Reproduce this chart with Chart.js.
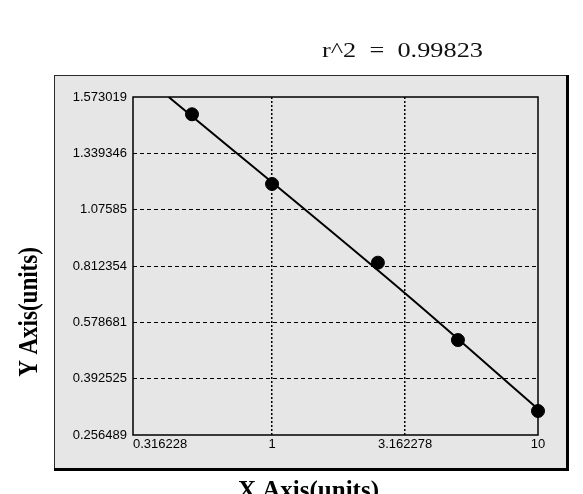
<!DOCTYPE html>
<html>
<head>
<meta charset="utf-8">
<script src="https://cdn.jsdelivr.net/npm/chart.js@4.4.1/dist/chart.umd.min.js"></script>
<style>
    body { margin: 0; background: #ffffff; }
    #wrap { width: 583px; height: 494px; }
</style>
</head>
<body>
<div id="wrap"><canvas id="std_curve_chart"></canvas></div>
<script>
// tick values / labels
const yTickValues = [0.256489, 0.392525, 0.578681, 0.812354, 1.07585, 1.339346, 1.573019];
const yTickLabels = ["0.256489", "0.392525", "0.578681", "0.812354", "1.07585", "1.339346", "1.573019"];
const xTickValues = [0.316228, 1, 3.162278, 10];
const xTickLabels = ["0.316228", "1", "3.162278", "10"];

// standard points
const stdX = [0.5, 1, 2.5, 5, 10];
const stdY = [1.5013, 1.196, 0.8279, 0.5202, 0.3144];

// fitted curve
const fitX = [0.4086, 3.162, 10];
const fitY = [1.573019, 0.699, 0.3193];

const rSquared = "r^2  =  0.99823";
const xTitle = "X Axis(units)";
const yTitle = "Y Axis(units)";

// the y axis is spaced evenly by tick, not by value
function toIdx(v) {
    for (let i = 0; i < yTickValues.length - 1; i++) {
        let a = yTickValues[i], b = yTickValues[i + 1];
        if (v <= b || i === yTickValues.length - 2) {
            return i + (v - a) / (b - a);
        }
    }
}

const panelPlugin = {
    id: "panel",
    beforeDraw: function (chart) {
        let ctx = chart.ctx, a = chart.chartArea;
        let px = a.left - 79, py = a.top - 22, pw = a.right - a.left + 108, ph = a.bottom - a.top + 56;
        ctx.save();
        ctx.fillStyle = "#ffffff";
        ctx.fillRect(0, 0, chart.width, chart.height);
        ctx.fillStyle = "#e6e6e6";
        ctx.fillRect(px, py, pw, ph);
        ctx.strokeStyle = "#2a2a2a";
        ctx.lineWidth = 1;
        ctx.strokeRect(px + 0.5, py + 0.5, pw, ph);
        ctx.fillStyle = "#000000";
        ctx.fillRect(px + pw - 1, py, 3, ph + 2);
        ctx.fillRect(px, py + ph - 1, pw + 2, 3);

        // r^2 text
        ctx.font = "22px 'Liberation Serif', serif";
        ctx.textBaseline = "middle";
        ctx.textAlign = "left";
        let w = ctx.measureText(rSquared).width;
        ctx.translate(a.left + 189, a.top - 46);
        ctx.scale(161 / w, 1);
        ctx.fillStyle = "#111111";
        ctx.fillText(rSquared, 0, 0);
        ctx.restore();

        // axis titles
        ctx.save();
        ctx.fillStyle = "#000000";
        ctx.font = "bold 25px 'Liberation Serif', serif";
        ctx.textAlign = "center";
        ctx.textBaseline = "alphabetic";
        ctx.fillText(xTitle, px + pw / 2 - 2, chart.height + 4);
        ctx.restore();

        ctx.save();
        ctx.fillStyle = "#000000";
        ctx.font = "bold 23px 'Liberation Serif', serif";
        ctx.textAlign = "center";
        ctx.textBaseline = "middle";
        ctx.translate(30, a.top + 215);
        ctx.rotate(-Math.PI / 2);
        ctx.scale(1, 1.15);
        ctx.fillText(yTitle, 0, 0);
        ctx.restore();

        // first x label starts at the left edge of the plot
        let items = chart.scales.x.getLabelItems ? chart.scales.x.getLabelItems() : null;
        if (items && items.length) {
            items[0].options.textAlign = "left";
            items[0].options.translation[0] = a.left;
        }
    },
    beforeDatasetsDraw: function (chart) {
        let ctx = chart.ctx, a = chart.chartArea;
        ctx.save();
        ctx.strokeStyle = "#000000";
        ctx.lineWidth = 1.5;
        ctx.strokeRect(a.left, a.top, a.right - a.left, a.bottom - a.top);
        ctx.restore();
    }
};

new Chart(document.getElementById("std_curve_chart").getContext("2d"), {
    data: {
        datasets: [{
            type: "line",
            data: fitX.map(function (x, i) { return {x: x, y: toIdx(fitY[i])}; }),
            borderColor: "#000000",
            borderWidth: 2,
            pointRadius: 0,
            cubicInterpolationMode: "monotone",
            fill: false
        }, {
            type: "scatter",
            data: stdX.map(function (x, i) { return {x: x, y: toIdx(stdY[i])}; }),
            backgroundColor: "#000000",
            borderColor: "#000000",
            pointRadius: 6.5,
            clip: false
        }]
    },
    options: {
        responsive: true,
        maintainAspectRatio: false,
        animation: false,
        layout: {
            padding: {top: 97, right: 45, left: 0, bottom: 0}
        },
        plugins: {
            legend: {display: false},
            tooltip: {enabled: false}
        },
        scales: {
            x: {
                type: "logarithmic",
                min: 0.316228,
                max: 10,
                afterBuildTicks: function (scale) {
                    scale.ticks = xTickValues.map(function (v) { return {value: v}; });
                },
                afterFit: function (scale) {
                    scale.height = 59;
                },
                ticks: {
                    color: "#000000",
                    padding: 2,
                    font: {family: "'Liberation Sans', Arial, sans-serif", size: 13},
                    maxRotation: 0,
                    callback: function (value, index) {
                        return xTickLabels[index];
                    }
                },
                grid: {
                    drawTicks: false,
                    color: function (c) {
                        return (c.index === 0 || c.index === xTickValues.length - 1) ? "rgba(0,0,0,0)" : "#000000";
                    },
                    lineWidth: 1.5
                },
                border: {display: false, dash: [2, 2]}
            },
            y: {
                type: "linear",
                min: 0,
                max: yTickValues.length - 1,
                afterBuildTicks: function (scale) {
                    scale.ticks = yTickLabels.map(function (s, i) { return {value: i}; });
                },
                afterFit: function (scale) {
                    scale.width = 133;
                },
                ticks: {
                    color: "#000000",
                    padding: 6,
                    font: {family: "'Liberation Sans', Arial, sans-serif", size: 13},
                    callback: function (value, index) {
                        return yTickLabels[index];
                    }
                },
                grid: {
                    drawTicks: false,
                    color: function (c) {
                        return (c.index === 0 || c.index === yTickValues.length - 1) ? "rgba(0,0,0,0)" : "#000000";
                    },
                    lineWidth: 1
                },
                border: {display: false, dash: [4, 3]}
            }
        }
    },
    plugins: [panelPlugin]
});
</script>
</body>
</html>
